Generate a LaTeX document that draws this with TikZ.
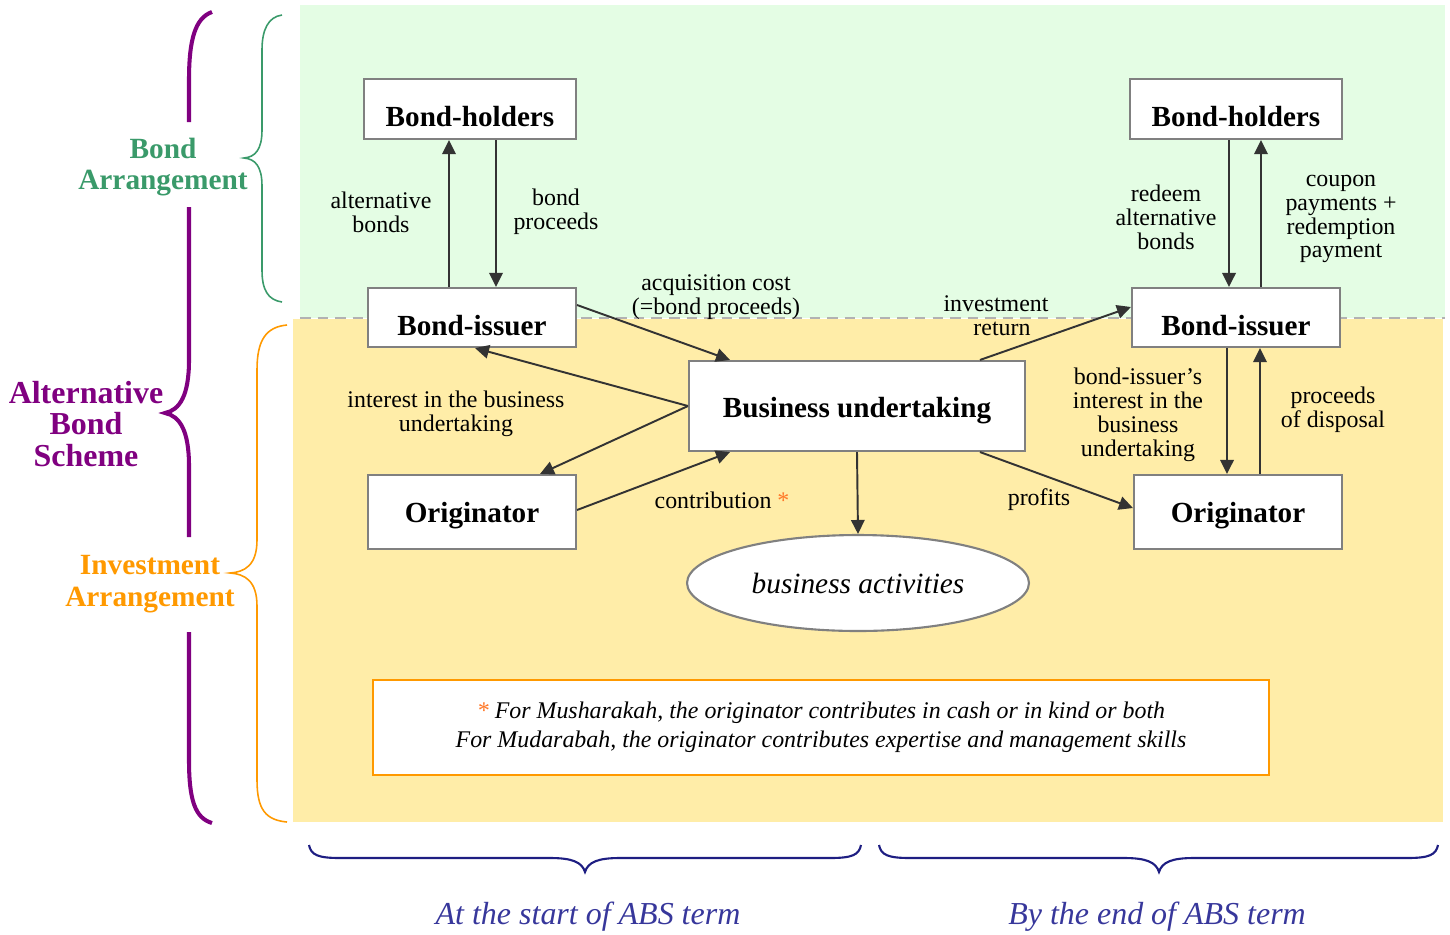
\documentclass[tikz,border=0pt]{standalone}
\usepackage{fontspec}
\setmainfont{Liberation Serif}
\usetikzlibrary{arrows.meta,shapes.geometric}
\definecolor{bggreen}{RGB}{228,253,228}
\definecolor{bgyellow}{RGB}{255,237,168}
\definecolor{bordgray}{RGB}{128,128,128}
\definecolor{arrgray}{RGB}{51,51,51}
\definecolor{brgreen}{RGB}{58,154,106}
\definecolor{brpurple}{RGB}{128,0,128}
\definecolor{brorange}{RGB}{255,153,0}
\definecolor{astorange}{RGB}{255,120,40}
\definecolor{navy}{RGB}{30,30,130}
\definecolor{labblue}{RGB}{55,55,155}
\tikzset{
  box/.style={draw=bordgray, line width=1.2pt, fill=white, minimum width=4.16cm, minimum height=1.18cm, font=\fontsize{16.6}{19}\selectfont\bfseries, inner sep=0pt},
  arr/.style={draw=arrgray, line width=1.1pt, -{Triangle[length=0.28cm,width=0.27cm]}},
  lab/.style={align=center, font=\fontsize{13.6}{13.6}\selectfont, inner sep=0pt},
  side/.style={align=center, font=\fontsize{16.7}{18.1}\selectfont\bfseries, inner sep=0pt},
}
\newcommand{\dn}[2]{\raisebox{-#1}[\height][\depth]{#2}}
\begin{document}
\begin{tikzpicture}[x=0.02cm,y=-0.02cm]
\useasboundingbox (0,0) rectangle (1450,934);
% backgrounds
\fill[bggreen] (300,5) rectangle (1445,318);
\fill[bgyellow] (293,319) rectangle (1443,822);
\draw[gray!60, line width=0.8pt, dashed, dash pattern=on 6pt off 4pt] (300,318) -- (1445,318);

% braces
\draw[brpurple, line width=2.3pt] (212,12) .. controls (195,18) and (189,40) .. (189,80) -- (189,122);
\draw[brpurple, line width=2.3pt] (189,207) -- (189,360) .. controls (189,395) and (180,410) .. (165,413) .. controls (180,416) and (189,431) .. (189,466) -- (189,537);
\draw[brpurple, line width=2.3pt] (189,632) -- (189,760) .. controls (189,800) and (195,818) .. (212,823);
\draw[brgreen, line width=0.9pt] (282,15) .. controls (268,17) and (262,30) .. (262,50) -- (262,130) .. controls (262,150) and (255,157) .. (244,158) .. controls (255,159) and (262,166) .. (262,186) -- (262,270) .. controls (262,290) and (268,300) .. (282,302);
\draw[brorange, line width=0.9pt] (287,325) .. controls (266,327) and (257,340) .. (257,370) -- (257,540) .. controls (257,565) and (245,572) .. (230,573) .. controls (245,574) and (257,581) .. (257,606) -- (257,780) .. controls (257,810) and (266,820) .. (287,822);
\draw[navy, line width=1.2pt] (309,845) .. controls (311,855) and (318,858) .. (340,858) -- (550,858) .. controls (572,858) and (582,862) .. (585,872) .. controls (588,862) and (598,858) .. (620,858) -- (830,858) .. controls (852,858) and (859,855) .. (861,845);
\draw[navy, line width=1.2pt] (879,845) .. controls (881,855) and (888,858) .. (910,858) -- (1124,858) .. controls (1146,858) and (1156,862) .. (1159,872) .. controls (1162,862) and (1172,858) .. (1194,858) -- (1407,858) .. controls (1429,858) and (1436,855) .. (1438,845);

% side labels
\node[side, text=brgreen] (tba) at (163,167) {Bond\\Arrangement};
\node[side, text=brpurple, font=\fontsize{18.2}{18.1}\selectfont\bfseries] (tabs) at (86,424) {Alternative\\Bond\\Scheme};
\node[side, text=brorange] (tia) at (150,584) {Investment\\Arrangement};

% nodes
\node[box, minimum width=4.24cm, minimum height=1.2cm] (lbh) at (470,109) {\dn{0.16cm}{Bond-holders}};
\node[box] (lbi) at (472,317.5) {\dn{0.16cm}{Bond-issuer}};
\node[box, minimum width=6.72cm, minimum height=1.8cm] (bu) at (857,406) {\dn{0.1cm}{Business undertaking}};
\node[box, minimum height=1.48cm] (lor) at (472,512) {\dn{0.08cm}{Originator}};
\node[box, minimum width=4.24cm, minimum height=1.2cm] (rbh) at (1236,109) {\dn{0.16cm}{Bond-holders}};
\node[box] (rbi) at (1236,317.5) {\dn{0.16cm}{Bond-issuer}};
\node[box, minimum height=1.48cm] (ror) at (1238,512) {\dn{0.08cm}{Originator}};
\node[ellipse, draw=bordgray, line width=1.2pt, fill=white, minimum width=6.84cm, minimum height=1.92cm, inner sep=0pt, font=\fontsize{16.7}{18}\selectfont\itshape] (ell) at (858,583) {business activities};
\node[draw=brorange, line width=1.2pt, fill=white, minimum width=17.92cm, minimum height=1.9cm, align=center, inner sep=0pt, font=\fontsize{13.6}{16.4}\selectfont\itshape] (note) at (821,727.5) {{\color{astorange}*} For Musharakah, the originator contributes in cash or in kind or both\\For Mudarabah, the originator contributes expertise and management skills};

% arrows left
\draw[arr] ([xshift=-0.46cm]lbi.north) -- ([xshift=-0.46cm]lbi.north |- lbh.south);
\draw[arr] ([xshift=0.48cm]lbi.north |- lbh.south) -- ([xshift=0.48cm]lbi.north);
\draw[arr] ([yshift=0.25cm]lbi.east) -- ([xshift=-2.54cm]bu.north);
\draw[arr] (bu.west) -- ([xshift=0.06cm]lbi.south);
\draw[arr] (bu.west) -- ([xshift=1.36cm]lor.north);
\draw[arr] ([yshift=0.04cm]lor.east) -- ([xshift=-2.54cm]bu.south);
\draw[arr] (bu.south) -- (ell.north);
% arrows right
\draw[arr] ([xshift=2.46cm]bu.north) -- ([yshift=0.21cm]rbi.west);
\draw[arr] ([xshift=2.46cm]bu.south) -- ([yshift=0.08cm]ror.west);
\draw[arr] ([xshift=-0.14cm]rbi.north |- rbh.south) -- ([xshift=-0.14cm]rbi.north);
\draw[arr] ([xshift=0.5cm]rbi.north) -- ([xshift=0.5cm]rbi.north |- rbh.south);
\draw[arr] ([xshift=-0.18cm]rbi.south) -- ([xshift=-0.18cm]rbi.south |- ror.north);
\draw[arr] ([xshift=0.48cm]rbi.south |- ror.north) -- ([xshift=0.48cm]rbi.south);

% edge labels
\node[lab] (l1) at (381,212) {alternative\\bonds};
\node[lab] (l2) at (556,212) {bond\\proceeds};
\node[lab] (l3) at (716,297) {acquisition cost\\(=bond proceeds)};
\node[lab] (l4) at (996,316) {investment\\\hspace*{0.5em}return};
\node[lab] (l5) at (456,414) {interest in the business\\undertaking};
\node[lab] (l6) at (722,500) {contribution {\color{astorange}*}};
\node[lab] (l7) at (1039,500) {profits};
\node[lab] (l8) at (1166,217) {redeem\\alternative\\bonds};
\node[lab] (l9) at (1341,219) {coupon\\payments +\\redemption\\payment};
\node[lab] (l10) at (1138,415) {bond-issuer’s\\interest in the\\business\\undertaking};
\node[lab] (l11) at (1333,410) {proceeds\\of disposal};

% bottom labels
\node[font=\fontsize{18.2}{20}\selectfont\itshape, text=labblue, inner sep=0pt] (bs) at (588,917) {At the start of ABS term};
\node[font=\fontsize{18.2}{20}\selectfont\itshape, text=labblue, inner sep=0pt] (be) at (1157,917) {By the end of ABS term};
\end{tikzpicture}
\end{document}
